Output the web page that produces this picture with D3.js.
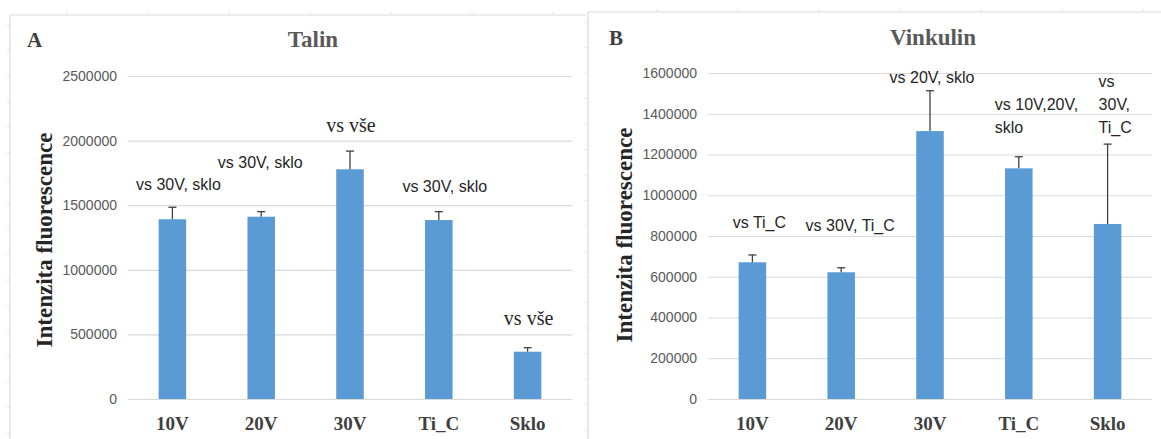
<!DOCTYPE html>
<html>
<head>
<meta charset="utf-8">
<script src="https://cdn.jsdelivr.net/npm/d3@7"></script>
<style>
  html, body { margin: 0; padding: 0; background: #ffffff; }
  svg { display: block; }
</style>
</head>
<body>
<svg id="chart" width="1161" height="439"></svg>
<script>
// Shared categories
const categories = ["10V", "20V", "30V", "Ti_C", "Sklo"];

// Panel A – Talin
const talinValues = [1391000, 1411000, 1778000, 1385000, 366000];
const talinErrors = [93000, 39000, 141000, 65000, 31000];
const talinTicks = [0, 500000, 1000000, 1500000, 2000000, 2500000];
const talinNotes = [["vs 30V, sklo"], ["vs 30V, sklo"], ["vs vše"], ["vs 30V, sklo"], ["vs vše"]];

// Panel B – Vinkulin
const vinkulinValues = [671000, 622000, 1315000, 1132000, 859000];
const vinkulinErrors = [36000, 22000, 198000, 57000, 392000];
const vinkulinTicks = [0, 200000, 400000, 600000, 800000, 1000000, 1200000, 1400000, 1600000];
const vinkulinNotes = [["vs Ti_C"], ["vs 30V, Ti_C"], ["vs 20V, sklo"], ["vs 10V,20V,", "sklo"], ["vs", "30V,", "Ti_C"]];

const svg = d3.select("#chart");
const BAR = "#5b9bd5";
const GRID = "#d9d9d9";
const FRAME = "#d9d9d9";

function drawPanel(cfg) {
  const g = svg.append("g");

  // chart frame (top and left edges, with faint ruler ticks)
  g.append("line").attr("x1", cfg.frame.x0).attr("x2", cfg.frame.x1)
    .attr("y1", cfg.frame.y0).attr("y2", cfg.frame.y0)
    .attr("stroke", FRAME).attr("stroke-width", 1.2);
  g.append("line").attr("x1", cfg.frame.x0).attr("x2", cfg.frame.x0)
    .attr("y1", cfg.frame.y0).attr("y2", 439)
    .attr("stroke", FRAME).attr("stroke-width", 1.2);
  g.selectAll(".rt").data(d3.range(cfg.frame.tx0, cfg.frame.x1, 81)).enter()
    .append("line").attr("x1", d => d).attr("x2", d => d)
    .attr("y1", cfg.frame.y0 - 3).attr("y2", cfg.frame.y0)
    .attr("stroke", "#e2e2e2");
  g.selectAll(".rl").data(d3.range(cfg.frame.y0 + 10, 439, 25.5)).enter()
    .append("line").attr("x1", cfg.frame.x0 - 3).attr("x2", cfg.frame.x0)
    .attr("y1", d => d).attr("y2", d => d)
    .attr("stroke", "#e2e2e2");

  const x = d3.scaleBand().domain(categories)
    .range([cfg.plot.x0, cfg.plot.x1]).paddingInner(0.69).paddingOuter(0.345);
  const y = d3.scaleLinear().domain([0, cfg.max]).range([cfg.plot.y0, cfg.plot.y1]);

  // gridlines + tick labels
  const axis = d3.axisLeft(y).tickValues(cfg.ticks).tickSize(-(cfg.plot.x1 - cfg.plot.x0))
    .tickPadding(11).tickFormat(d3.format("d"));
  const ag = g.append("g").attr("transform", `translate(${cfg.plot.x0},0)`).call(axis);
  ag.select(".domain").remove();
  ag.selectAll(".tick line").attr("stroke", GRID).attr("stroke-width", 1.2);
  ag.selectAll(".tick text").attr("fill", "#595959")
    .style("font-family", "'Liberation Sans', Arial, sans-serif").style("font-size", "14px");

  // bars
  const data = categories.map((c, i) => ({ c, v: cfg.values[i], e: cfg.errors[i], note: cfg.notes[i], i }));
  g.selectAll(".bar").data(data).enter().append("rect")
    .attr("x", d => x(d.c)).attr("width", x.bandwidth())
    .attr("y", d => y(d.v)).attr("height", d => y(0) - y(d.v))
    .attr("fill", BAR);

  // upper error bars
  const cx = d => x(d.c) + x.bandwidth() / 2;
  g.selectAll(".err").data(data).enter().append("line")
    .attr("x1", cx).attr("x2", cx)
    .attr("y1", d => y(d.v)).attr("y2", d => y(d.v + d.e))
    .attr("stroke", "#404040").attr("stroke-width", 1.3);
  g.selectAll(".cap").data(data).enter().append("line")
    .attr("x1", d => cx(d) - 4).attr("x2", d => cx(d) + 4)
    .attr("y1", d => y(d.v + d.e)).attr("y2", d => y(d.v + d.e))
    .attr("stroke", "#404040").attr("stroke-width", 1.3);

  // significance notes above bars
  data.forEach(d => {
    const lay = cfg.noteLayout[d.i];
    const baseY = y(d.v + d.e) - lay.dy;
    const n = d.note.length;
    const t = g.append("text")
      .attr("text-anchor", lay.anchor)
      .attr("fill", "#262626")
      .style("font-family", lay.serif ? "'Liberation Serif', 'Times New Roman', serif" : "'Liberation Sans', Arial, sans-serif")
      .style("font-size", lay.serif ? "20px" : "16px");
    d.note.forEach((line, k) => {
      t.append("tspan").attr("x", cx(d) + lay.dx).attr("y", baseY - (n - 1 - k) * 23).text(line);
    });
  });

  // category labels
  g.selectAll(".cat").data(categories).enter().append("text")
    .attr("x", d => x(d) + x.bandwidth() / 2).attr("y", 430)
    .attr("text-anchor", "middle").attr("fill", "#404040")
    .style("font-family", "'Liberation Serif', 'Times New Roman', serif")
    .style("font-weight", "bold").style("font-size", "19px")
    .text(d => d);

  // panel letter and title
  g.append("text").attr("x", cfg.letter.x).attr("y", cfg.letter.y)
    .attr("fill", "#404040")
    .style("font-family", "'Liberation Serif', 'Times New Roman', serif")
    .style("font-weight", "bold").style("font-size", "21px").text(cfg.letter.text);
  g.append("text").attr("x", cfg.title.x).attr("y", cfg.title.y)
    .attr("text-anchor", "middle").attr("fill", "#595959")
    .style("font-family", "'Liberation Serif', 'Times New Roman', serif")
    .style("font-weight", "bold").style("font-size", "23px").text(cfg.title.text);

  // y-axis title
  g.append("text")
    .attr("transform", `translate(${cfg.yTitle.x},${cfg.yTitle.y}) rotate(-90)`)
    .attr("text-anchor", "middle").attr("fill", "#262626")
    .style("font-family", "'Liberation Serif', 'Times New Roman', serif")
    .style("font-weight", "bold").style("font-size", "23px")
    .text("Intenzita fluorescence");
}

drawPanel({
  frame: { x0: 10, x1: 586, y0: 15, tx0: 67 },
  plot: { x0: 128, x1: 572, y0: 399, y1: 76 },
  max: 2500000,
  ticks: talinTicks,
  values: talinValues, errors: talinErrors, notes: talinNotes,
  noteLayout: [
    { dx: 6, dy: 17, anchor: "middle" },
    { dx: -1, dy: 44, anchor: "middle" },
    { dx: 1, dy: 19, anchor: "middle", serif: true },
    { dx: 6, dy: 20, anchor: "middle" },
    { dx: 1, dy: 23, anchor: "middle", serif: true }
  ],
  letter: { text: "A", x: 27, y: 47 },
  title: { text: "Talin", x: 313, y: 47 },
  yTitle: { x: 52, y: 240 }
});

drawPanel({
  frame: { x0: 588, x1: 1161, y0: 12, tx0: 657 },
  plot: { x0: 708, x1: 1152, y0: 399, y1: 73 },
  max: 1600000,
  ticks: vinkulinTicks,
  values: vinkulinValues, errors: vinkulinErrors, notes: vinkulinNotes,
  noteLayout: [
    { dx: 7, dy: 27, anchor: "middle" },
    { dx: 9, dy: 37, anchor: "middle" },
    { dx: 2, dy: 8, anchor: "middle" },
    { dx: -24, dy: 24, anchor: "start" },
    { dx: -9, dy: 11, anchor: "start" }
  ],
  letter: { text: "B", x: 609, y: 45 },
  title: { text: "Vinkulin", x: 933, y: 45 },
  yTitle: { x: 632, y: 235 }
});
</script>
</body>
</html>
